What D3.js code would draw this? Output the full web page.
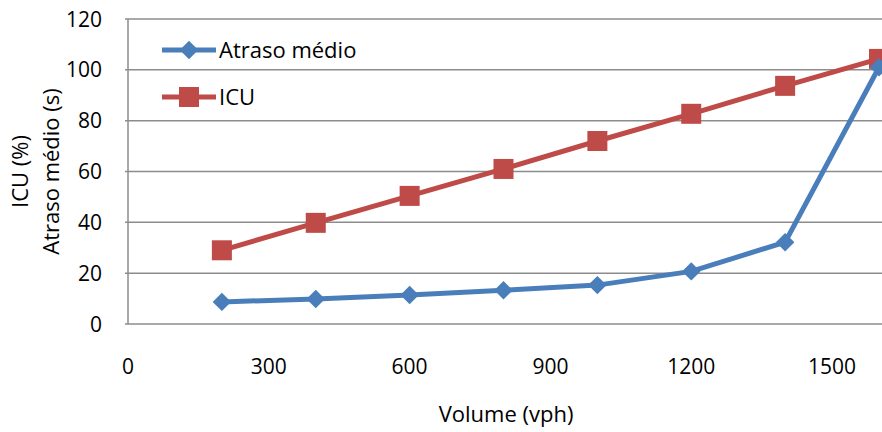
<!DOCTYPE html>
<html>
<head>
<meta charset="utf-8">
<script src="https://cdn.jsdelivr.net/npm/d3@7"></script>
<style>
  body { margin: 0; background: #fff; }
  text { font-family: "Open Sans", sans-serif; fill: #000; }
</style>
</head>
<body>
<script>
// chart data
var volumes = [200, 400, 600, 800, 1000, 1200, 1400, 1600];
var atraso = [8.7, 9.8, 11.4, 13.3, 15.3, 20.7, 32.2, 101];
var icu = [29, 39.8, 50.4, 61, 72, 82.7, 93.7, 104.3];
var xTicks = [0, 300, 600, 900, 1200, 1500];
var yTicks = [0, 20, 40, 60, 80, 100, 120];

var w = 882, h = 432;
var plotLeft = 128, plotRight = 879, plotTop = 19, plotBottom = 324;

var svg = d3.select("body").append("svg")
  .attr("width", w)
  .attr("height", h);

var x = d3.scaleLinear().domain([0, 1600]).range([plotLeft, plotRight]);
var y = d3.scaleLinear().domain([0, 120]).range([plotBottom, plotTop]);

// horizontal gridlines
svg.append("g")
  .selectAll("line")
  .data(yTicks)
  .enter().append("line")
  .attr("x1", plotLeft - 3)
  .attr("x2", w)
  .attr("y1", function(d){ return y(d); })
  .attr("y2", function(d){ return y(d); })
  .style("stroke", "#8c8c8c")
  .style("stroke-width", 1.5);

// left axis line
svg.append("line")
  .attr("x1", plotLeft).attr("x2", plotLeft)
  .attr("y1", plotTop).attr("y2", plotBottom)
  .style("stroke", "#8c8c8c")
  .style("stroke-width", 1.5);

// y tick labels
svg.append("g")
  .selectAll("text")
  .data(yTicks)
  .enter().append("text")
  .attr("x", plotLeft - 26)
  .attr("y", function(d){ return y(d); })
  .attr("dy", "0.36em")
  .attr("text-anchor", "end")
  .style("font-size", "21px")
  .text(function(d){ return d; });

// x tick labels
svg.append("g")
  .selectAll("text")
  .data(xTicks)
  .enter().append("text")
  .attr("x", function(d){ return x(d); })
  .attr("y", 366)
  .attr("dy", "0.36em")
  .attr("text-anchor", "middle")
  .style("font-size", "21px")
  .text(function(d){ return d; });

// axis titles
svg.append("text")
  .attr("x", 506).attr("y", 414)
  .attr("dy", "0.36em")
  .attr("text-anchor", "middle")
  .style("font-size", "22px")
  .text("Volume (vph)");

var ytitle = svg.append("text")
  .attr("transform", "translate(0," + ((plotTop + plotBottom) / 2) + ") rotate(-90)")
  .attr("text-anchor", "middle")
  .style("font-size", "22px");
ytitle.append("tspan").attr("x", 0).attr("y", 28).text("ICU (%)");
ytitle.append("tspan").attr("x", 0).attr("y", 59).text("Atraso médio (s)");

var blue = "#4a7ebb", red = "#be4b48";

var line = d3.line()
  .x(function(d, i){ return x(volumes[i]); })
  .y(function(d){ return y(d); });

// ICU series
svg.append("path")
  .datum(icu)
  .attr("d", line)
  .style("fill", "none")
  .style("stroke", red)
  .style("stroke-width", 5);

svg.append("g")
  .selectAll("rect")
  .data(icu)
  .enter().append("rect")
  .attr("x", function(d, i){ return x(volumes[i]) - 10; })
  .attr("y", function(d){ return y(d) - 10; })
  .attr("width", 20)
  .attr("height", 20)
  .style("fill", red);

// Atraso series
svg.append("path")
  .datum(atraso)
  .attr("d", line)
  .style("fill", "none")
  .style("stroke", blue)
  .style("stroke-width", 5);

var diamond = d3.symbol().type(d3.symbolSquare).size(170);
svg.append("g")
  .selectAll("path")
  .data(atraso)
  .enter().append("path")
  .attr("d", diamond)
  .attr("transform", function(d, i){ return "translate(" + x(volumes[i]) + "," + y(d) + ") rotate(45)"; })
  .style("fill", blue);

// legend
var legend = svg.append("g");
legend.append("line")
  .attr("x1", 162).attr("x2", 216).attr("y1", 50).attr("y2", 50)
  .style("stroke", blue).style("stroke-width", 5);
legend.append("path")
  .attr("d", diamond)
  .attr("transform", "translate(189,50) rotate(45)")
  .style("fill", blue);
legend.append("text")
  .attr("x", 219).attr("y", 50).attr("dy", "0.36em")
  .style("font-size", "22px")
  .text("Atraso médio");

legend.append("line")
  .attr("x1", 162).attr("x2", 216).attr("y1", 97).attr("y2", 97)
  .style("stroke", red).style("stroke-width", 5);
legend.append("rect")
  .attr("x", 179).attr("y", 87).attr("width", 20).attr("height", 20)
  .style("fill", red);
legend.append("text")
  .attr("x", 219).attr("y", 97).attr("dy", "0.36em")
  .style("font-size", "22px")
  .text("ICU");
</script>
</body>
</html>
